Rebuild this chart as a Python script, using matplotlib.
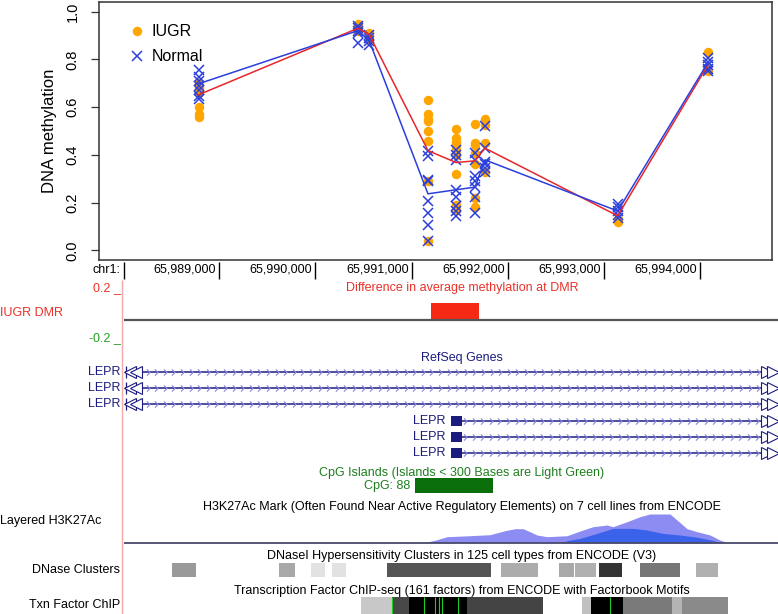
"""Methylation at LEPR CpGs (IUGR vs Normal) with a UCSC-style browser panel below."""

import numpy as np
import matplotlib

matplotlib.use("Agg")
import matplotlib.pyplot as plt  # noqa: E402
from matplotlib.path import Path  # noqa: E402
from matplotlib.lines import Line2D  # noqa: E402

plt.rcParams["font.family"] = ["Liberation Sans", "DejaVu Sans"]

W, H = 778, 614

# ---------------- methylation data (top panel) ----------------
cpg_pos = [65988790, 65990443, 65990558, 65991170, 65991461,
           65991658, 65991762, 65993140, 65994075]

iugr_vals = [
    [0.70, 0.69, 0.68, 0.67, 0.66, 0.60, 0.57, 0.56],
    [0.95, 0.94, 0.93, 0.93, 0.92],
    [0.91, 0.90, 0.89, 0.88],
    [0.63, 0.57, 0.55, 0.54, 0.50, 0.46, 0.29, 0.04],
    [0.51, 0.47, 0.455, 0.44, 0.42, 0.40, 0.32, 0.19, 0.17],
    [0.53, 0.45, 0.44, 0.41, 0.36, 0.22, 0.18],
    [0.55, 0.525, 0.45, 0.33],
    [0.13, 0.12],
    [0.83, 0.75],
]
normal_vals = [
    [0.755, 0.725, 0.71, 0.69, 0.67, 0.645, 0.635],
    [0.94, 0.93, 0.92, 0.91, 0.87],
    [0.90, 0.89, 0.875, 0.86],
    [0.415, 0.395, 0.295, 0.29, 0.205, 0.155, 0.105, 0.04],
    [0.42, 0.40, 0.38, 0.255, 0.225, 0.185, 0.165, 0.145],
    [0.41, 0.38, 0.31, 0.29, 0.265, 0.225, 0.155],
    [0.52, 0.43, 0.37, 0.36, 0.345, 0.33],
    [0.195, 0.18, 0.165, 0.15, 0.135],
    [0.805, 0.79, 0.775, 0.76, 0.75],
]
iugr_mean = [0.652, 0.93, 0.905, 0.418, 0.368, 0.375, 0.428, 0.145, 0.775]
normal_mean = [0.698, 0.92, 0.88, 0.237, 0.254, 0.265, 0.379, 0.165, 0.785]

# ---------------- browser tracks ----------------
ruler_ticks = [65989000, 65990000, 65991000, 65992000, 65993000, 65994000]

dmr_start, dmr_end = 65991201, 65991695

gene_names = ["LEPR"] * 6
gene_starts = [65988024, 65988024, 65988024, 65991409, 65991409, 65991409]
gene_ends = [65994805] * 6
gene_exon_ends = [None, None, None, 65991523, 65991523, 65991523]

cpg_island = (65991035, 65991845)
cpg_label = "CpG: 88"

h3k_pos = [65991129, 65991264, 65991368, 65991606, 65991814, 65991970, 65992074,
           65992157, 65992229, 65992302, 65992406, 65992614, 65992749, 65992884,
           65993029, 65993091, 65993237, 65993372, 65993476, 65993683, 65993756,
           65993860, 65993964, 65994099, 65994202, 65994275]
h3k_layer1 = [0, 3, 6, 7, 8, 12, 14, 14, 11, 7.7, 6, 7, 11.7, 16, 17.7, 16, 21,
              26, 28.7, 28.7, 22.7, 14, 11, 7.7, 2.7, 0]
h3k2_pos = [65992541, 65992614, 65992749, 65992925, 65993091, 65993299, 65993444,
            65993610, 65993787, 65993964, 65994130, 65994202]
h3k_layer2 = [0, 2, 4.3, 9.3, 14.3, 14.3, 12.7, 9.3, 7.7, 5.5, 2.3, 0]

dnase_starts = [65988512, 65989623, 65989955, 65990173, 65990745, 65991928,
                65992531, 65992697, 65992946, 65993372, 65993953]
dnase_ends = [65988761, 65989789, 65990101, 65990319, 65991824, 65992312,
              65992686, 65992915, 65993185, 65993787, 65994182]
dnase_gray = ["#9a9a9a", "#a8a8a8", "#e2e2e2", "#e2e2e2", "#555555", "#acacac",
              "#a8a8a8", "#b0b0b0", "#333333", "#777777", "#b0b0b0"]

tf_starts = [65990475, 65990796, 65990973, 65991575, 65992769, 65992863,
             65993195, 65993704, 65993808]
tf_ends = [65990796, 65990973, 65991575, 65992364, 65992863, 65993195,
           65993704, 65993808, 65994285]
tf_gray = ["#c8c8c8", "#484848", "#000000", "#444444", "#c0c0c0", "#000000",
           "#7a7a7a", "#b4b4b4", "#8a8a8a"]
tf_motifs = [65990796, 65991129, 65991243, 65991284, 65991316, 65991482, 65993060]

# pixel <-> genome mapping of the browser image
GX0, PX0, PX_PER_BP = 65989000, 219, 0.0963


def px2g(px):
    return GX0 + (px - PX0) / PX_PER_BP


fig = plt.figure(figsize=(W / 100, H / 100), dpi=100)

# browser canvas: genome on x, pixel rows on y
axb = fig.add_axes([0, 0, 1, 1], zorder=0)
axb.set_xlim(px2g(0), px2g(W))
axb.set_ylim(H, 0)
axb.axis("off")

# ---------------- top scatter panel ----------------
ax = fig.add_axes([99 / W, 1 - 260 / H, 673 / W, 258 / H], zorder=2)
orange, blue, red = "#ffa500", "#2a3fdc", "#e8262a"
for x, vals in zip(cpg_pos, iugr_vals):
    ax.plot([x] * len(vals), vals, "o", color=orange, ms=6.8, mec="none")
for x, vals in zip(cpg_pos, normal_vals):
    ax.plot([x] * len(vals), vals, "x", color=blue, ms=7.5, mew=1.1)
ax.plot(cpg_pos, iugr_mean, color=red, lw=1.1)
ax.plot(cpg_pos, normal_mean, color=blue, lw=1.1)

ax.set_xlim(px2g(99), px2g(772))
ax.set_ylim(-0.04, 1.04)
ax.set_xticks([])
yt = [0.0, 0.2, 0.4, 0.6, 0.8, 1.0]
ax.set_yticks(yt)
ax.set_yticklabels([f"{v:.1f}" for v in yt], rotation=90, va="center", fontsize=10.5)
ax.tick_params(axis="y", length=6, width=0.9, pad=8, color="#333333")
ax.set_ylabel("DNA methylation", fontsize=12, labelpad=6)
for s in ax.spines.values():
    s.set_color("#333333")
    s.set_linewidth(1.1)

handles = [
    Line2D([], [], ls="none", marker="o", color=orange, ms=6.8, mec="none"),
    Line2D([], [], ls="none", marker="x", color=blue, ms=7.5, mew=1.1),
]
ax.legend(handles, ["IUGR", "Normal"], loc="upper left", bbox_to_anchor=(0.032, 0.944),
          frameon=False, fontsize=11.5, borderpad=0, handlelength=1.0,
          handletextpad=0.45, labelspacing=0.62)

# ---------------- ruler ----------------
fs = 9
axb.text(px2g(120), 270, "chr1:", ha="right", va="center", fontsize=fs)
axb.vlines(px2g(124), 262, 279, color="black", lw=1)
for t in ruler_ticks:
    axb.vlines(t, 262, 279, color="black", lw=1)
    axb.text(t - 3 / PX_PER_BP, 270, f"{t:,}", ha="right", va="center", fontsize=fs)

# left border line of the browser panel
axb.vlines(px2g(122), 280, H, color="#f4a8a8", lw=1)

mid = px2g(462)
red_t, green_t, navy = "#e8322a", "#22a022", "#1c1c80"

# ---------------- DMR track ----------------
axb.text(px2g(121), 288, "0.2 _", ha="right", va="center", fontsize=fs, color=red_t)
axb.text(mid, 288, "Difference in average methylation at DMR", ha="center",
         va="center", fontsize=fs, color=red_t)
axb.text(px2g(0), 313, "IUGR DMR", ha="left", va="center", fontsize=fs, color=red_t)
axb.fill_between([dmr_start, dmr_end], 303, 320, color="#f42a14", lw=0)
axb.hlines(320, px2g(124), px2g(W), color="#555555", lw=1.6)
axb.text(px2g(121), 338, "-0.2 _", ha="right", va="center", fontsize=fs, color=green_t)

# ---------------- RefSeq genes ----------------
axb.text(mid, 358, "RefSeq Genes", ha="center", va="center", fontsize=fs, color=navy)
gene_rows = [372, 388, 404, 421, 437, 453]
chevron = Path([(-0.5, 1.0), (0.5, 0.0), (-0.5, -1.0)],
               [Path.MOVETO, Path.LINETO, Path.LINETO])
step = 8.6 / PX_PER_BP
for name, gs, ge, ex, y in zip(gene_names, gene_starts, gene_ends, gene_exon_ends, gene_rows):
    axb.hlines(y, gs, ge, color=navy, lw=1.1)
    cx = np.arange(gs + 14 / PX_PER_BP, px2g(762), step)
    axb.plot(cx, [y] * len(cx), ls="none", marker=chevron, ms=4.5, mfc="none",
             mec="#8a8ae0", mew=0.8)
    # open arrowheads at the right edge (gene continues)
    axb.plot([px2g(767), px2g(773)], [y, y], ls="none", marker=">", ms=8,
             mfc="white", mec=navy, mew=0.8)
    if ex is None:
        axb.vlines(gs + 1 / PX_PER_BP, y - 6, y + 6, color=navy, lw=0.9)
        axb.plot([px2g(130), px2g(136)], [y, y], ls="none", marker="<", ms=8,
                 mfc="white", mec=navy, mew=0.8)
        axb.text(px2g(121), y, name, ha="right", va="center", fontsize=fs, color=navy)
    else:
        axb.fill_between([gs, ex], y - 5, y + 5, color=navy, lw=0)
        axb.text(gs - 5 / PX_PER_BP, y, name, ha="right", va="center", fontsize=fs,
                 color=navy)

# ---------------- CpG islands ----------------
cpg_green = "#1f7f1f"
axb.text(mid, 473, "CpG Islands (Islands < 300 Bases are Light Green)", ha="center",
         va="center", fontsize=fs, color=cpg_green)
axb.fill_between(cpg_island, 478, 493, color="#0a6e0a", lw=0)
axb.text(cpg_island[0] - 5 / PX_PER_BP, 486, cpg_label, ha="right", va="center",
         fontsize=fs, color=cpg_green)

# ---------------- H3K27Ac ----------------
base = 542.7
axb.text(mid, 507, "H3K27Ac Mark (Often Found Near Active Regulatory Elements) on 7 cell "
         "lines from ENCODE", ha="center", va="center", fontsize=fs)
axb.text(px2g(0), 521, "Layered H3K27Ac", ha="left", va="center", fontsize=fs)
axb.fill_between(h3k_pos, base, base - np.array(h3k_layer1), color="#8c8cf2", lw=0)
axb.fill_between(h3k2_pos, base, base - np.array(h3k_layer2), color="#3a62ea", lw=0)
axb.hlines(base, px2g(124), px2g(W), color="#4a4a6a", lw=1.3)

# ---------------- DNase clusters ----------------
axb.text(mid, 556, "DNaseI Hypersensitivity Clusters in 125 cell types from ENCODE (V3)",
         ha="center", va="center", fontsize=fs)
axb.text(px2g(120), 570, "DNase Clusters", ha="right", va="center", fontsize=fs)
for s, e, c in zip(dnase_starts, dnase_ends, dnase_gray):
    axb.fill_between([s, e], 563, 577, color=c, lw=0)

# ---------------- TF ChIP ----------------
axb.text(mid, 591, "Transcription Factor ChIP-seq (161 factors) from ENCODE with "
         "Factorbook Motifs", ha="center", va="center", fontsize=fs)
axb.text(px2g(120), 605, "Txn Factor ChIP", ha="right", va="center", fontsize=fs)
for s, e, c in zip(tf_starts, tf_ends, tf_gray):
    axb.fill_between([s, e], 597, H, color=c, lw=0)
axb.vlines(tf_motifs, 597, H, color="#22cc22", lw=0.8)

fig.savefig("out.png", dpi=100)
